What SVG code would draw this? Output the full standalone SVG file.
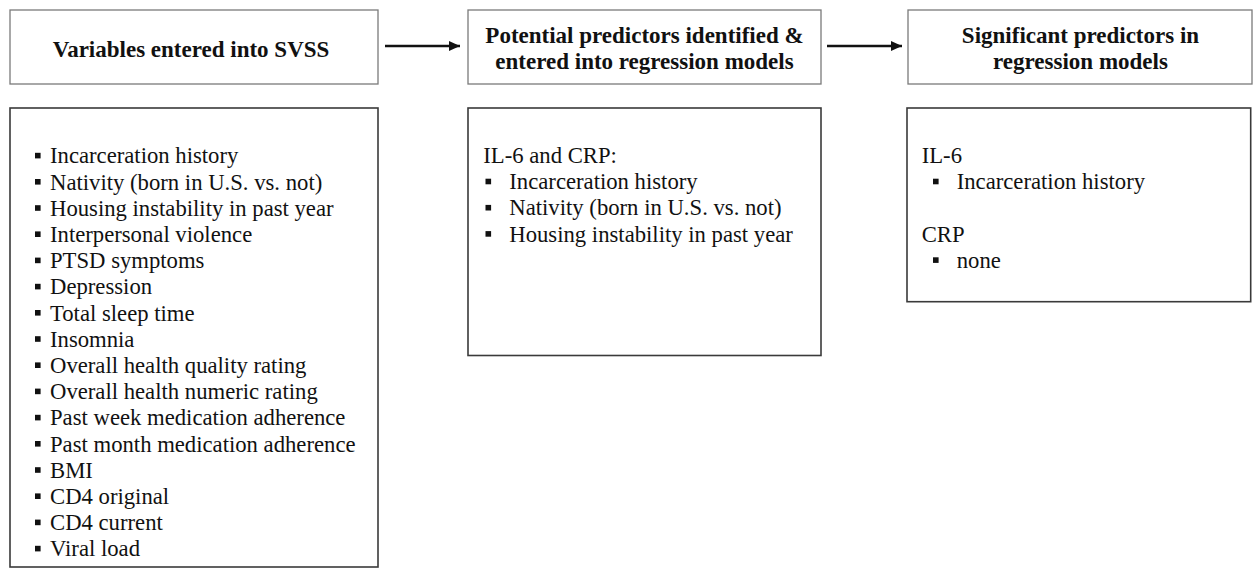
<svg xmlns="http://www.w3.org/2000/svg" width="1258" height="568" viewBox="0 0 1258 568">
<style>
.hdr{fill:#fff;stroke:#7a7a7a;stroke-width:1.3}
.body{fill:#fff;stroke:#3a3a3a;stroke-width:1.6}
.ht{font-family:"Liberation Serif","Times New Roman",serif;font-weight:bold;font-size:23px;fill:#111;text-anchor:middle}
.bt{font-family:"Liberation Serif","Times New Roman",serif;font-size:22.7px;fill:#111}
.bul{fill:#111}
.conn{stroke:#111;stroke-width:2.3;fill:none}
</style>
<defs>
<marker id="ah" markerWidth="12" markerHeight="10" refX="11" refY="5" orient="auto" markerUnits="userSpaceOnUse">
<path d="M0,0 L11,5 L0,10 Z" fill="#111"/>
</marker>
</defs>
<rect width="1258" height="568" fill="#fff"/>
<g id="connectors">
<line class="conn" x1="385" y1="46" x2="460" y2="46" marker-end="url(#ah)"/>
<line class="conn" x1="827" y1="46" x2="902" y2="46" marker-end="url(#ah)"/>
</g>
<g id="node-svss-header">
<rect class="hdr" x="10" y="10" width="368" height="74"/>
<text class="ht" x="191" y="57">Variables entered into SVSS</text>
</g>
<g id="node-potential-header">
<rect class="hdr" x="468" y="10" width="353" height="74"/>
<text class="ht" x="644.5" y="43">Potential predictors identified &amp;</text>
<text class="ht" x="644.5" y="69">entered into regression models</text>
</g>
<g id="node-significant-header">
<rect class="hdr" x="908" y="10" width="344" height="74"/>
<text class="ht" x="1080.5" y="43">Significant predictors in</text>
<text class="ht" x="1080.5" y="69">regression models</text>
</g>
<g id="node-svss-list">
<rect class="body" x="10" y="108" width="368" height="459"/>
<g class="bul">
<rect x="35" y="152.8" width="5.6" height="5.6"/>
<rect x="35" y="179" width="5.6" height="5.6"/>
<rect x="35" y="205.2" width="5.6" height="5.6"/>
<rect x="35" y="231.4" width="5.6" height="5.6"/>
<rect x="35" y="257.6" width="5.6" height="5.6"/>
<rect x="35" y="283.8" width="5.6" height="5.6"/>
<rect x="35" y="310" width="5.6" height="5.6"/>
<rect x="35" y="336.2" width="5.6" height="5.6"/>
<rect x="35" y="362.4" width="5.6" height="5.6"/>
<rect x="35" y="388.6" width="5.6" height="5.6"/>
<rect x="35" y="414.8" width="5.6" height="5.6"/>
<rect x="35" y="441" width="5.6" height="5.6"/>
<rect x="35" y="467.2" width="5.6" height="5.6"/>
<rect x="35" y="493.4" width="5.6" height="5.6"/>
<rect x="35" y="519.6" width="5.6" height="5.6"/>
<rect x="35" y="545.8" width="5.6" height="5.6"/>
</g>
<text class="bt" x="50" y="163.3">Incarceration history</text>
<text class="bt" x="50" y="189.5">Nativity (born in U.S. vs. not)</text>
<text class="bt" x="50" y="215.7">Housing instability in past year</text>
<text class="bt" x="50" y="241.9">Interpersonal violence</text>
<text class="bt" x="50" y="268.1">PTSD symptoms</text>
<text class="bt" x="50" y="294.3">Depression</text>
<text class="bt" x="50" y="320.5">Total sleep time</text>
<text class="bt" x="50" y="346.7">Insomnia</text>
<text class="bt" x="50" y="372.9">Overall health quality rating</text>
<text class="bt" x="50" y="399.1">Overall health numeric rating</text>
<text class="bt" x="50" y="425.3">Past week medication adherence</text>
<text class="bt" x="50" y="451.5">Past month medication adherence</text>
<text class="bt" x="50" y="477.7">BMI</text>
<text class="bt" x="50" y="503.9">CD4 original</text>
<text class="bt" x="50" y="530.1">CD4 current</text>
<text class="bt" x="50" y="556.3">Viral load</text>
</g>
<g id="node-potential-list">
<rect class="body" x="468" y="108" width="353" height="247.5"/>
<text class="bt" x="483.3" y="163">IL-6 and CRP:</text>
<g class="bul">
<rect x="485.5" y="178.7" width="5.6" height="5.6"/>
<rect x="485.5" y="204.9" width="5.6" height="5.6"/>
<rect x="485.5" y="231.1" width="5.6" height="5.6"/>
</g>
<text class="bt" x="509.3" y="189.2">Incarceration history</text>
<text class="bt" x="509.3" y="215.4">Nativity (born in U.S. vs. not)</text>
<text class="bt" x="509.3" y="241.6">Housing instability in past year</text>
</g>
<g id="node-significant-list">
<rect class="body" x="907" y="108" width="343.7" height="193.7"/>
<text class="bt" x="921.7" y="163">IL-6</text>
<rect class="bul" x="933" y="178.7" width="5.6" height="5.6"/>
<text class="bt" x="956.7" y="189.2">Incarceration history</text>
<text class="bt" x="921.7" y="241.6">CRP</text>
<rect class="bul" x="933" y="257.3" width="5.6" height="5.6"/>
<text class="bt" x="956.7" y="267.8">none</text>
</g>
</svg>
